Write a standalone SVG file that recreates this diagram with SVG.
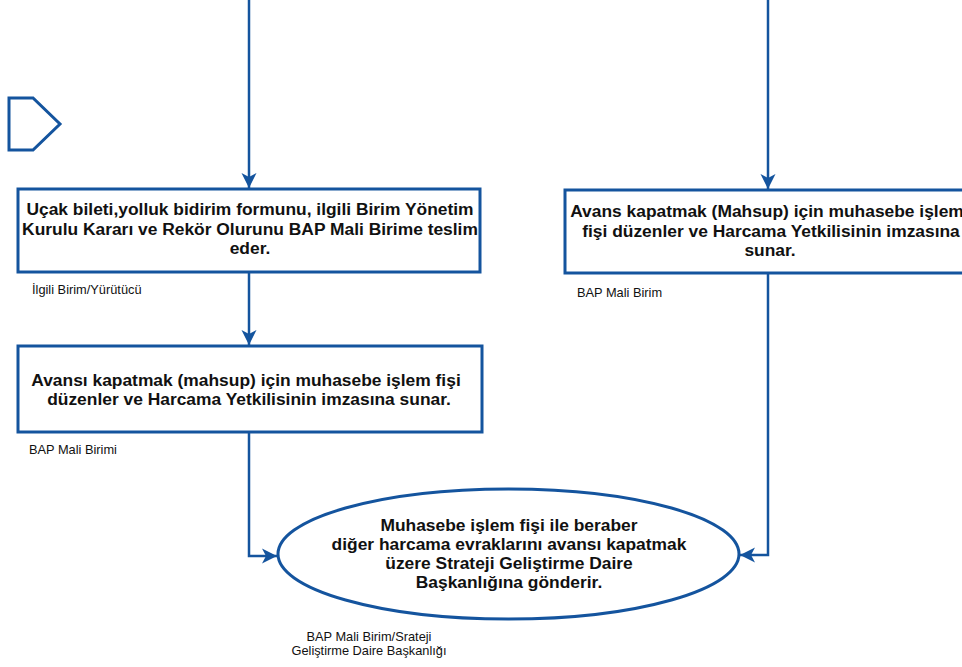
<svg xmlns="http://www.w3.org/2000/svg" width="962" height="667" viewBox="0 0 962 667">
<style>
.shape{fill:#ffffff;stroke:#14549e;stroke-width:3}
.conn{fill:none;stroke:#14549e;stroke-width:2.5}
.t{font-family:"Liberation Sans",Arial,sans-serif;font-weight:bold;font-size:17.4px;fill:#111;text-anchor:middle}
.l{font-family:"Liberation Sans",Arial,sans-serif;font-size:12.8px;fill:#111}
</style>
<defs>
<marker id="ah" markerUnits="userSpaceOnUse" markerWidth="16" markerHeight="16" refX="15" refY="8" orient="auto" viewBox="0 0 16 16">
<path d="M0,0.5 L15,8 L0,15.5 L4,8 z" fill="#14549e"/>
</marker>
</defs>
<rect width="962" height="667" fill="#ffffff"/>
<g id="connectors">
<path class="conn" d="M249,0 V188" marker-end="url(#ah)"/>
<path class="conn" d="M768,0 V189" marker-end="url(#ah)"/>
<path class="conn" d="M249,273 V345" marker-end="url(#ah)"/>
<path class="conn" d="M249,433 V556 H277" marker-end="url(#ah)"/>
<path class="conn" d="M768,274 V555 H740" marker-end="url(#ah)"/>
</g>
<g id="offpage">
<polygon class="shape" points="9,98 33,98 60,124 33,150 9,150"/>
</g>
<g id="node1">
<rect class="shape" x="18" y="189" width="462" height="83"/>
<text class="t" x="250" y="215">Uçak bileti,yolluk bidirim formunu, ilgili Birim Yönetim</text>
<text class="t" x="250" y="235">Kurulu Kararı ve Rekör Olurunu BAP Mali Birime teslim</text>
<text class="t" x="250" y="254">eder.</text>
<text class="l" x="32" y="294">İlgili Birim/Yürütücü</text>
</g>
<g id="node2">
<rect class="shape" x="565" y="190" width="412" height="83"/>
<text class="t" x="767" y="217">Avans kapatmak (Mahsup) için muhasebe işlem</text>
<text class="t" x="771" y="237">fişi düzenler ve Harcama Yetkilisinin imzasına</text>
<text class="t" x="770" y="256">sunar.</text>
<text class="l" x="577" y="297">BAP Mali Birim</text>
</g>
<g id="node3">
<rect class="shape" x="18" y="346" width="464" height="86"/>
<text class="t" x="246" y="386">Avansı kapatmak (mahsup) için muhasebe işlem fişi</text>
<text class="t" x="249" y="405">düzenler ve Harcama Yetkilisinin imzasına sunar.</text>
<text class="l" x="29" y="454">BAP Mali Birimi</text>
</g>
<g id="node4">
<ellipse class="shape" cx="508.5" cy="554" rx="230.5" ry="65"/>
<text class="t" x="509" y="531">Muhasebe işlem fişi ile beraber</text>
<text class="t" x="509" y="550">diğer harcama evraklarını avansı kapatmak</text>
<text class="t" x="509" y="569">üzere Strateji Geliştirme Daire</text>
<text class="t" x="509" y="588">Başkanlığına gönderir.</text>
<text class="l" x="369" y="641" text-anchor="middle">BAP Mali Birim/Srateji</text>
<text class="l" x="369" y="655" text-anchor="middle">Geliştirme Daire Başkanlığı</text>
</g>
</svg>
